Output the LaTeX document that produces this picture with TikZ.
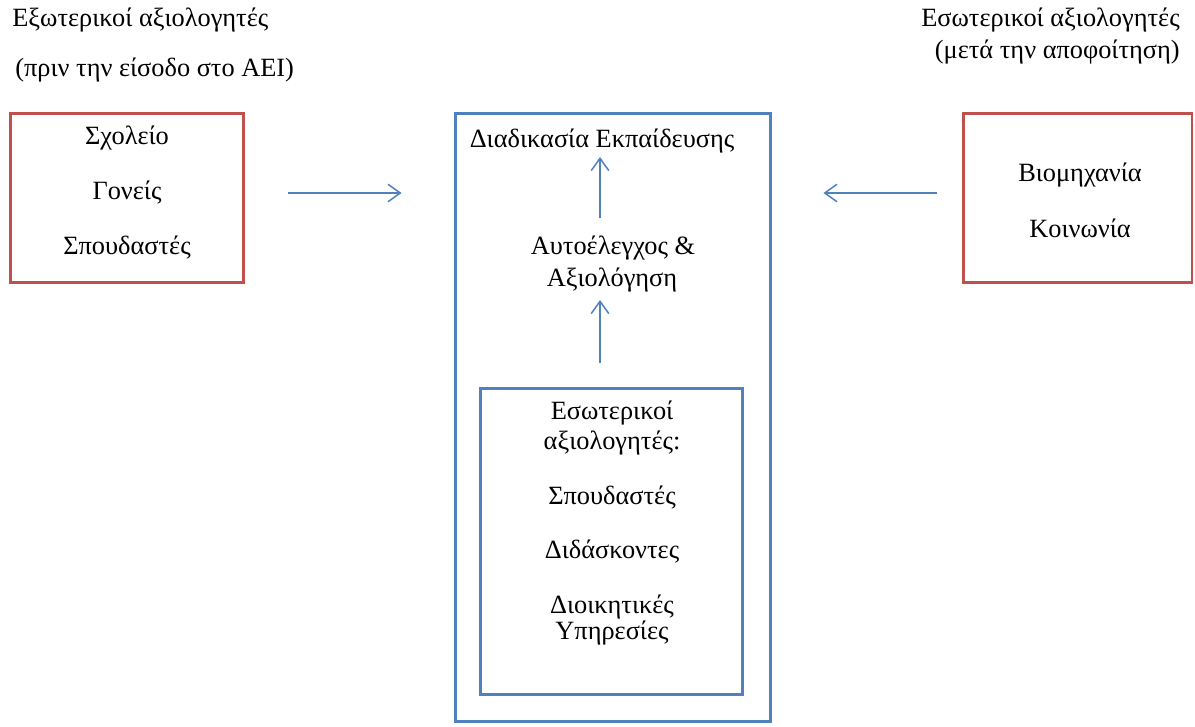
\documentclass[tikz,border=0pt]{standalone}
\usepackage{fontspec}
\setmainfont{Liberation Serif}
\usetikzlibrary{arrows.meta}
\definecolor{boxred}{RGB}{192,80,77}
\definecolor{boxblue}{RGB}{79,129,189}
\begin{document}
\begin{tikzpicture}[x=0.02cm,y=-0.02cm,
  txt/.style={font=\fontsize{15}{18}\selectfont, inner sep=0pt},
  redbox/.style={draw=boxred, line width=1.7pt, rectangle, inner sep=0pt},
  bluebox/.style={draw=boxblue, line width=1.7pt, rectangle, inner sep=0pt},
  arr/.style={draw=boxblue, line width=0.85pt, -{Straight Barb[length=7pt,width=10pt]}}]
\useasboundingbox (0,0) rectangle (1195,726);
% boxes
\node[redbox, minimum width=4.68cm, minimum height=3.4cm] (left) at (127,198) {};
\node[redbox, minimum width=4.58cm, minimum height=3.4cm] (right) at (1077.5,198) {};
\node[bluebox, minimum width=6.32cm, minimum height=12.18cm] (outer) at (613,417.5) {};
\node[bluebox, minimum width=5.26cm, minimum height=6.14cm] (inner) at (611.5,541.5) {};
% titles
\node[txt, anchor=west] (t1) at (12,20) {Εξωτερικοί αξιολογητές};
\node[txt, anchor=west] (t2) at (15,70) {(πριν την είσοδο στο ΑΕΙ)};
\node[txt, anchor=east] (t3) at (1180,20) {Εσωτερικοί αξιολογητές};
\node[txt, anchor=east] (t4) at (1180,52) {(μετά την αποφοίτηση)};
% left box text
\node[txt] (l1) at (127,138) {Σχολείο};
\node[txt] (l2) at (127,193) {Γονείς};
\node[txt] (l3) at (127,248) {Σπουδαστές};
% right box text
\node[txt] (r1) at (1080,175) {Βιομηχανία};
\node[txt] (r2) at (1080,228) {Κοινωνία};
% central
\node[txt] (proc) at (602,141) {Διαδικασία Εκπαίδευσης};
\node[txt] (auto1) at (613,248) {Αυτοέλεγχος \&};
\node[txt] (auto2) at (612,280) {Αξιολόγηση};
\node[txt] (i1) at (612,413) {Εσωτερικοί};
\node[txt] (i2) at (612,443) {αξιολογητές:};
\node[txt] (i3) at (612,498) {Σπουδαστές};
\node[txt] (i4) at (612,552) {Διδάσκοντες};
\node[txt] (i5) at (612,607) {Διοικητικές};
\node[txt] (i6) at (612,633) {Υπηρεσίες};
% arrows
\coordinate (u1s) at (600,218);
\coordinate (u1e) at (600,157);
\coordinate (u2s) at (600,363);
\coordinate (u2e) at (600,300);
\draw[arr, shorten <=0.86cm, shorten >=1.04cm] ([yshift=0.1cm]left.east) -- ([yshift=0.1cm]left.east -| outer.west);
\draw[arr, shorten <=0.5cm, shorten >=1.02cm] ([yshift=0.1cm]right.west) -- ([yshift=0.1cm]right.west -| outer.east);
\draw[arr] (u1s) -- (u1e);
\draw[arr] (u2s) -- (u2e);
\end{tikzpicture}
\end{document}
